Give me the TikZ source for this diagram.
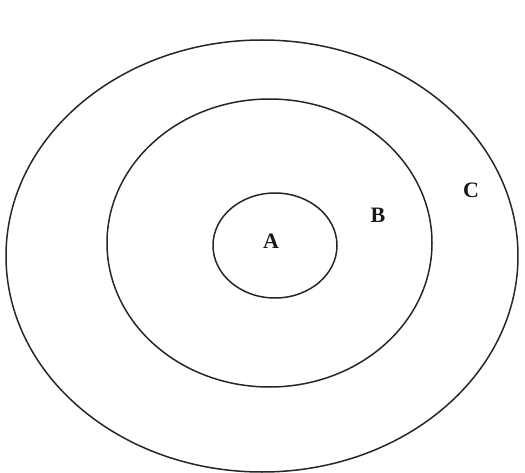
\documentclass[tikz,border=0pt]{standalone}
\usepackage{fontspec}
\setmainfont{Liberation Serif}
\begin{document}
\begin{tikzpicture}[x=1pt,y=-1pt,
  ring/.style={draw=black!85,line width=1.5pt},
  lab/.style={font=\fontsize{22}{24}\selectfont\bfseries,text=black!90}]
\useasboundingbox (0,0) rectangle (525,473);
\draw[ring] (262,256) ellipse [x radius=256,y radius=216];
\draw[ring] (269.5,243) ellipse [x radius=162.5,y radius=144];
\draw[ring] (275,245.5) ellipse [x radius=62,y radius=52.5];
\node[lab] (A) at (271,241) {A};
\node[lab] (B) at (378,215) {B};
\node[lab] (C) at (471,190) {C};
\end{tikzpicture}
\end{document}
